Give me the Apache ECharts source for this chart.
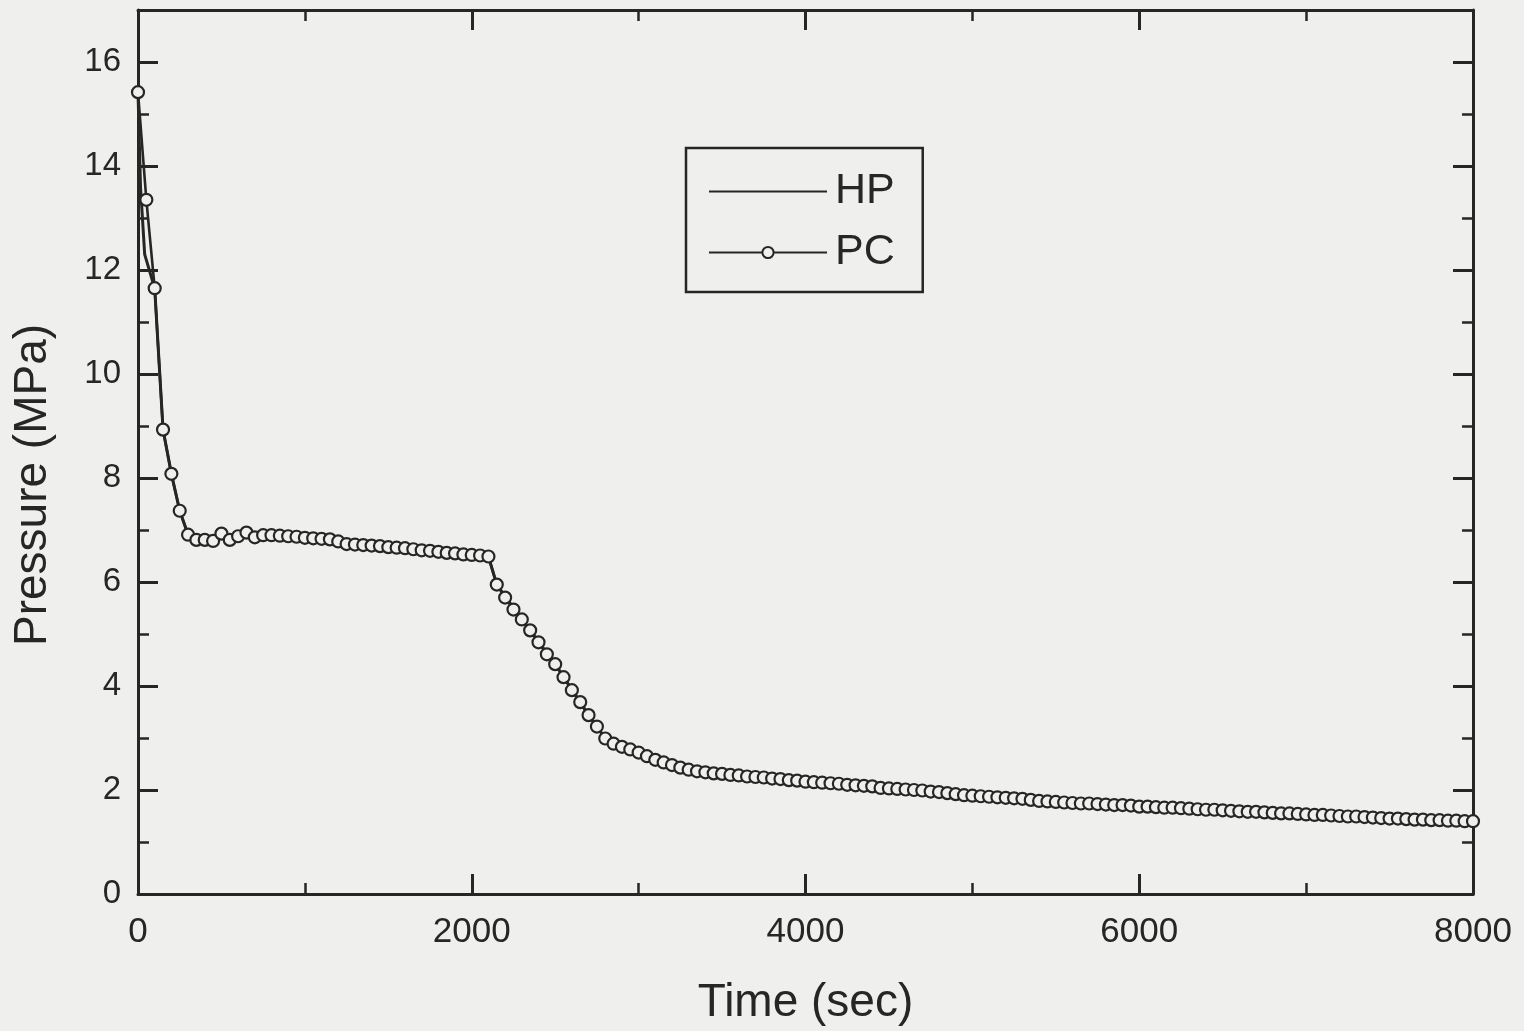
<!DOCTYPE html>
<html>
<head>
<meta charset="utf-8">
<script src="https://cdn.jsdelivr.net/npm/echarts@6/dist/echarts.min.js"></script>
<style>
html,body{margin:0;padding:0;background:#efefed;}
#chart{width:1524px;height:1031px;}
</style>
</head>
<body>
<div id="chart"></div>
<script>
// ---- Data (time in sec, pressure in MPa) ----
const pcTime = [
  0,50,100,150,200,250,300,350,400,450,500,550,600,650,700,750,
  800,850,900,950,1000,1050,1100,1150,1200,1250,1300,1350,1400,1450,1500,1550,1600,1650,1700,1750,1800,1850,1900,1950,2000,2050,2100,
  2150,2200,2250,2300,2350,2400,2450,2500,2550,2600,2650,2700,2750,2800,2850,2900,2950,3000,3050,3100,3150,3200,3250,3300,3350,3400,3450,3500,
  3550,3600,3650,3700,3750,3800,3850,3900,3950,4000,
  4050,4100,4150,4200,4250,4300,4350,4400,4450,4500,
  4550,4600,4650,4700,4750,4800,4850,4900,4950,5000,
  5050,5100,5150,5200,5250,5300,5350,5400,5450,5500,
  5550,5600,5650,5700,5750,5800,5850,5900,5950,6000,
  6050,6100,6150,6200,6250,6300,6350,6400,6450,6500,
  6550,6600,6650,6700,6750,6800,6850,6900,6950,7000,
  7050,7100,7150,7200,7250,7300,7350,7400,7450,7500,
  7550,7600,7650,7700,7750,7800,7850,7900,7950,8000
];
const pcPressure = [
  15.42,13.35,11.65,8.93,8.08,7.37,6.91,6.81,6.81,6.79,6.93,6.81,6.88,6.95,6.86,6.90,
  6.90,6.89,6.88,6.87,6.85,6.84,6.83,6.82,6.78,6.73,6.72,6.71,6.70,6.69,6.67,6.66,6.65,6.63,6.61,6.60,6.58,6.56,6.55,6.53,6.52,6.51,6.49,
  5.95,5.70,5.47,5.28,5.07,4.84,4.61,4.42,4.17,3.92,3.69,3.44,3.22,2.99,2.89,2.83,2.78,2.72,2.65,2.58,2.53,2.48,2.43,2.39,2.36,2.34,2.32,2.31,
  2.29,2.28,2.26,2.25,2.24,2.22,2.21,2.19,2.18,2.16,
  2.15,2.14,2.13,2.12,2.10,2.09,2.08,2.07,2.04,2.03,
  2.02,2.01,2.00,1.99,1.97,1.96,1.94,1.92,1.90,1.89,
  1.88,1.87,1.86,1.85,1.84,1.83,1.81,1.79,1.78,1.77,
  1.76,1.75,1.74,1.74,1.73,1.72,1.71,1.71,1.70,1.68,
  1.68,1.67,1.66,1.66,1.65,1.64,1.63,1.62,1.62,1.61,
  1.60,1.59,1.58,1.58,1.57,1.56,1.55,1.55,1.54,1.53,
  1.52,1.52,1.51,1.50,1.49,1.49,1.48,1.47,1.46,1.45,
  1.45,1.44,1.43,1.43,1.42,1.42,1.41,1.41,1.40,1.40
];
const hpTime = [0,15,40,100,150,200,250,300,350,400,450,480,500,520,550,600,650,700,750,
  1000,1250,1500,1750,2000,2100,2150,2300,2500,2700,2800,2900,3000,3200,3400,3600,4000,4500,5000,5500,6000,6500,7000,7500,8000];
const hpPressure = [15.42,13.6,12.3,11.65,8.93,8.08,7.37,6.91,6.81,6.81,6.79,6.85,7.04,6.85,6.81,6.88,6.95,6.86,6.90,
  6.85,6.73,6.67,6.60,6.52,6.49,5.95,5.28,4.42,3.44,2.99,2.83,2.72,2.48,2.34,2.28,2.16,2.03,1.89,1.77,1.68,1.61,1.53,1.45,1.40];
const xTicks = [0,2000,4000,6000,8000];
const yTicks = [0,2,4,6,8,10,12,14,16];
const seriesNames = ['HP','PC'];

const zip = (a,b) => a.map((v,i) => [v,b[i]]);

const ink = '#262626';
const bg = '#efefed';
const font = '"Liberation Sans", Arial, sans-serif';

function axisCommon() {
  return {
    axisLine:{show:true, onZero:false, lineStyle:{color:ink, width:3}},
    axisTick:{show:true, inside:true, length:20, lineStyle:{color:ink, width:3}},
    minorTick:{show:true, splitNumber:2, length:11, lineStyle:{color:ink, width:2.5}},
    splitLine:{show:false},
    minorSplitLine:{show:false}
  };
}

const chart = echarts.init(document.getElementById('chart'));
chart.setOption({
  backgroundColor:bg,
  animation:false,
  grid:{left:138, right:51, top:10, bottom:133, show:false},
  legend:{
    show:true,
    data:[
      {name:'HP', itemStyle:{opacity:0}},
      {name:'PC'}
    ],
    orient:'vertical',
    left:686, top:148,
    padding:[22,28,18,22],
    itemGap:18,
    itemWidth:118, itemHeight:14,
    borderColor:ink, borderWidth:2.5, borderRadius:0,
    backgroundColor:bg,
    textStyle:{fontFamily:font, fontSize:43, color:ink, padding:[0,0,0,3]}
  },
  xAxis:[
    Object.assign(axisCommon(), {
      type:'value', min:0, max:8000, interval:2000, position:'bottom',
      name:'Time (sec)', nameLocation:'middle', nameGap:86,
      nameTextStyle:{fontFamily:font, fontSize:46, color:ink},
      axisLabel:{fontFamily:font, fontSize:35, color:ink, margin:21,
        formatter:v => xTicks.includes(v) ? String(v) : ''}
    }),
    Object.assign(axisCommon(), {
      type:'value', min:0, max:8000, interval:2000, position:'top',
      axisLabel:{show:false}
    })
  ],
  yAxis:[
    Object.assign(axisCommon(), {
      type:'value', min:0, max:17, interval:2, position:'left',
      name:'Pressure (MPa)', nameLocation:'middle', nameGap:82, nameRotate:90,
      nameTextStyle:{fontFamily:font, fontSize:46, color:ink, padding:[0,66,0,0]},
      axisLabel:{fontFamily:font, fontSize:33, color:ink, margin:17, showMaxLabel:false,
        formatter:v => yTicks.includes(v) ? String(v) : ''}
    }),
    Object.assign(axisCommon(), {
      type:'value', min:0, max:17, interval:2, position:'right',
      axisLabel:{show:false}
    })
  ],
  series:[
    {
      name:seriesNames[0], type:'line', data:zip(hpTime,hpPressure),
      showSymbol:false, symbol:'none',
      lineStyle:{color:ink, width:3},
      itemStyle:{color:ink},
      z:2
    },
    {
      name:seriesNames[1], type:'line', data:zip(pcTime,pcPressure),
      symbol:'circle', symbolSize:12, showSymbol:true,
      lineStyle:{color:ink, width:2.6},
      itemStyle:{color:bg, borderColor:ink, borderWidth:2.2},
      z:3
    }
  ]
});
</script>
</body>
</html>
